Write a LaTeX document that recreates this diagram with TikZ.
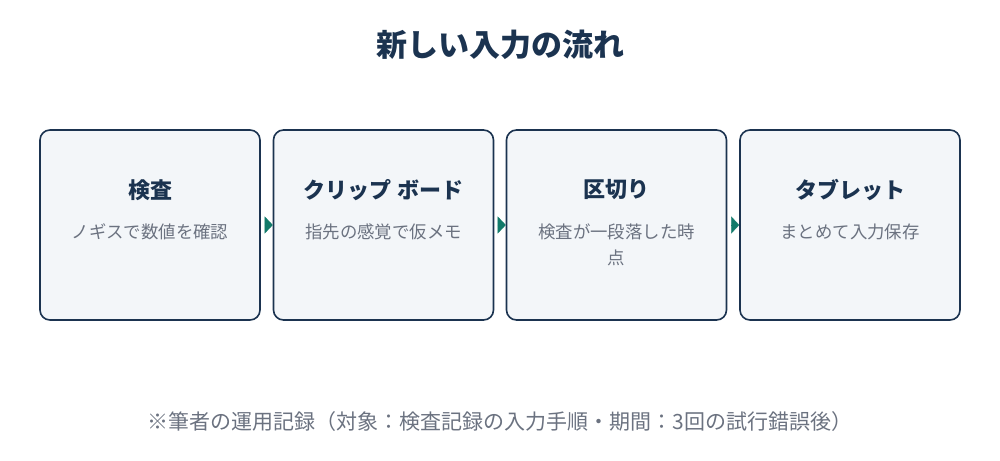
\documentclass[tikz,border=0pt]{standalone}
\usepackage{fontspec}
\setmainfont{Noto Sans CJK JP}
\usetikzlibrary{arrows.meta}
\definecolor{navy}{HTML}{1B3350}
\definecolor{boxfill}{HTML}{F3F6F9}
\definecolor{subgray}{HTML}{6B7280}
\definecolor{arrteal}{HTML}{127A6A}
\tikzset{
  stepbox/.style={draw=navy, line width=1.6pt, fill=boxfill, rounded corners=10pt,
    minimum width=220pt, minimum height=190pt, inner sep=0pt},
  boxtitle/.style={text=navy, font=\fontsize{22pt}{26pt}\selectfont\bfseries, inner sep=0pt},
  boxsub/.style={text=subgray, font=\fontsize{17.4pt}{26pt}\selectfont, align=center, inner sep=0pt, anchor=north},
  flowarrow/.style={draw=arrteal, fill=arrteal, line width=0.1pt, shorten <=6pt,
    -{Triangle[length=8pt,width=17pt]}},
}
\begin{document}
\begin{tikzpicture}[x=1pt,y=-1pt]
\useasboundingbox (0,0) rectangle (1000,460);
\node[text=navy, font=\fontsize{31pt}{36pt}\selectfont\bfseries] (title) at (500,45) {新しい入力の流れ};

\node[stepbox] (b1) at (150,225) {};
\node[stepbox] (b2) at (383.5,225) {};
\node[stepbox] (b3) at (616.5,225) {};
\node[stepbox] (b4) at (850,225) {};

\node[boxtitle] (t1) at (150,190) {検査};
\node[boxtitle] (t2) at (383.5,190) {クリップ ボード};
\node[boxtitle] (t3) at (616.5,190) {区切り};
\node[boxtitle] (t4) at (850,190) {タブレット};

\node[boxsub] (s1) at (150,223.5) {ノギスで数値を確認};
\node[boxsub] (s2) at (383.5,223.5) {指先の感覚で仮メモ};
\node[boxsub] (s3) at (616.5,223.5) {検査が一段落した時\\点};
\node[boxsub] (s4) at (850,223.5) {まとめて入力保存};

\draw[flowarrow] (b1.east) -- (b2.west);
\draw[flowarrow] (b2.east) -- (b3.west);
\draw[flowarrow] (b3.east) -- (b4.west);

\node[text=subgray, font=\fontsize{21pt}{25pt}\selectfont] (note) at (500,422) {※筆者の運用記録（対象：検査記録の入力手順・期間：3回の試行錯誤後）};
\end{tikzpicture}
\end{document}
